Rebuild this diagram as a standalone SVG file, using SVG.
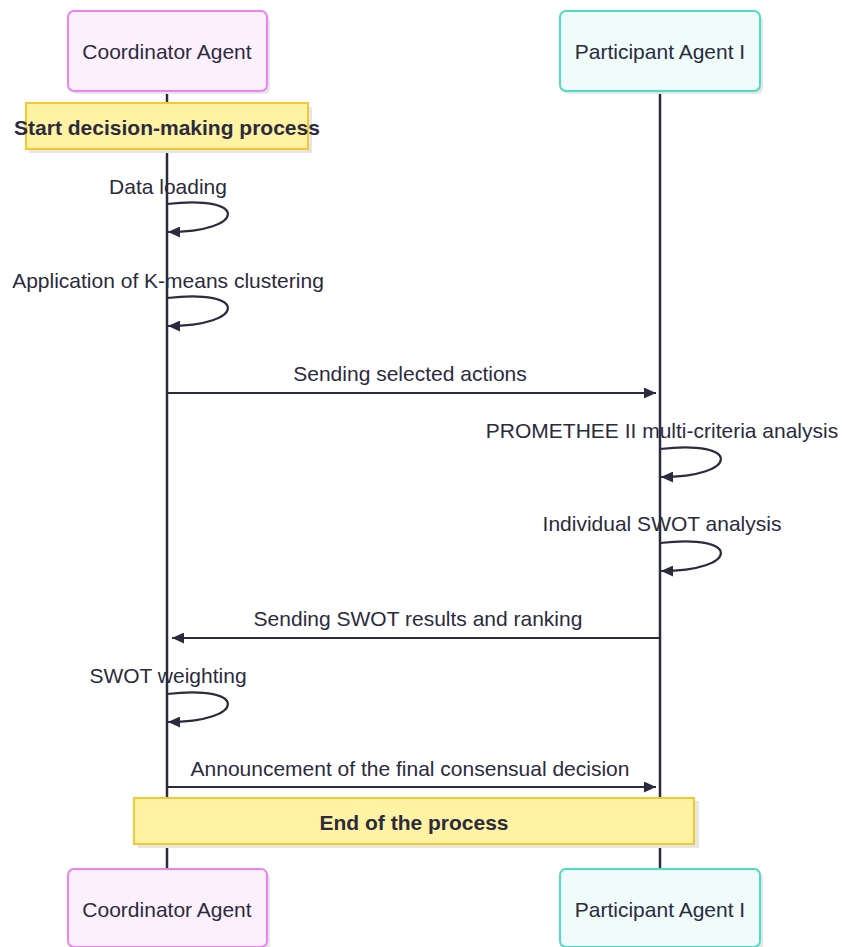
<svg xmlns="http://www.w3.org/2000/svg" width="842" height="947" viewBox="0 0 842 947">
<style>
text{font-family:"Liberation Sans",Arial,sans-serif;font-size:21px;fill:#2b2b3d;text-anchor:middle;dominant-baseline:central}
.b{font-weight:bold}
.coord{fill:#fdf0fd;stroke:#ee82f0;stroke-width:2}
.part{fill:#effcfa;stroke:#4fdcc4;stroke-width:2}
.shadow{fill:#e6e6e6}
.note{fill:#fff3a3;stroke:#f5c832;stroke-width:2}
.life{stroke:#2b2b40;stroke-width:2.5;fill:none}
.msg{stroke:#2b2b40;stroke-width:2.2;fill:none;marker-end:url(#ah)}
</style>
<defs>
<marker id="ah" markerUnits="userSpaceOnUse" markerWidth="13" markerHeight="11" refX="12" refY="5.5" orient="auto">
<path d="M0,0 L12,5.5 L0,11 z" fill="#2b2b40"/>
</marker>
</defs>
<rect width="842" height="947" fill="#ffffff"/>
<g id="lifelines">
<line class="life" x1="167" y1="91" x2="167" y2="869"/>
<line class="life" x1="660" y1="91" x2="660" y2="869"/>
</g>
<g id="coordinator-top">
<rect class="shadow" x="71" y="14" width="199" height="80" rx="6"/>
<rect class="coord" x="68" y="11" width="199" height="80" rx="6"/>
<text x="167" y="51">Coordinator Agent</text>
</g>
<g id="participant-top">
<rect class="shadow" x="563" y="14" width="200" height="80" rx="6"/>
<rect class="part" x="560" y="11" width="200" height="80" rx="6"/>
<text x="660" y="51">Participant Agent I</text>
</g>
<g id="coordinator-bottom">
<rect class="shadow" x="71" y="872" width="199" height="80" rx="6"/>
<rect class="coord" x="68" y="869" width="199" height="78" rx="6"/>
<text x="167" y="909">Coordinator Agent</text>
</g>
<g id="participant-bottom">
<rect class="shadow" x="563" y="872" width="200" height="80" rx="6"/>
<rect class="part" x="560" y="869" width="200" height="78" rx="6"/>
<text x="660" y="909">Participant Agent I</text>
</g>
<g id="note-start">
<rect class="shadow" x="29" y="107" width="283" height="46"/>
<rect class="note" x="26" y="103" width="282" height="46"/>
<text class="b" x="167" y="127">Start decision-making process</text>
</g>
<g id="note-end">
<rect class="shadow" x="138" y="801" width="561" height="47"/>
<rect class="note" x="134" y="798" width="560" height="46"/>
<text class="b" x="414" y="822">End of the process</text>
</g>
<g id="connectors">
<path class="msg" d="M167,204 C249,194 247,232 168,232"/>
<path class="msg" d="M167,298 C249,288 247,326 168,326"/>
<line class="msg" x1="167" y1="393" x2="656" y2="393"/>
<path class="msg" d="M660,449 C742,439 740,477 661,477"/>
<path class="msg" d="M660,543 C742,533 740,571 661,571"/>
<line class="msg" x1="660" y1="638" x2="172" y2="638"/>
<path class="msg" d="M167,694 C249,684 247,722 168,722"/>
<line class="msg" x1="167" y1="787" x2="656" y2="787"/>
</g>
<g id="labels">
<text x="168" y="186">Data loading</text>
<text x="168" y="280">Application of K-means clustering</text>
<text x="410" y="373">Sending selected actions</text>
<text x="662" y="430">PROMETHEE II multi-criteria analysis</text>
<text x="662" y="523">Individual SWOT analysis</text>
<text x="418" y="618">Sending SWOT results and ranking</text>
<text x="168" y="675">SWOT weighting</text>
<text x="410" y="768">Announcement of the final consensual decision</text>
</g>
</svg>
